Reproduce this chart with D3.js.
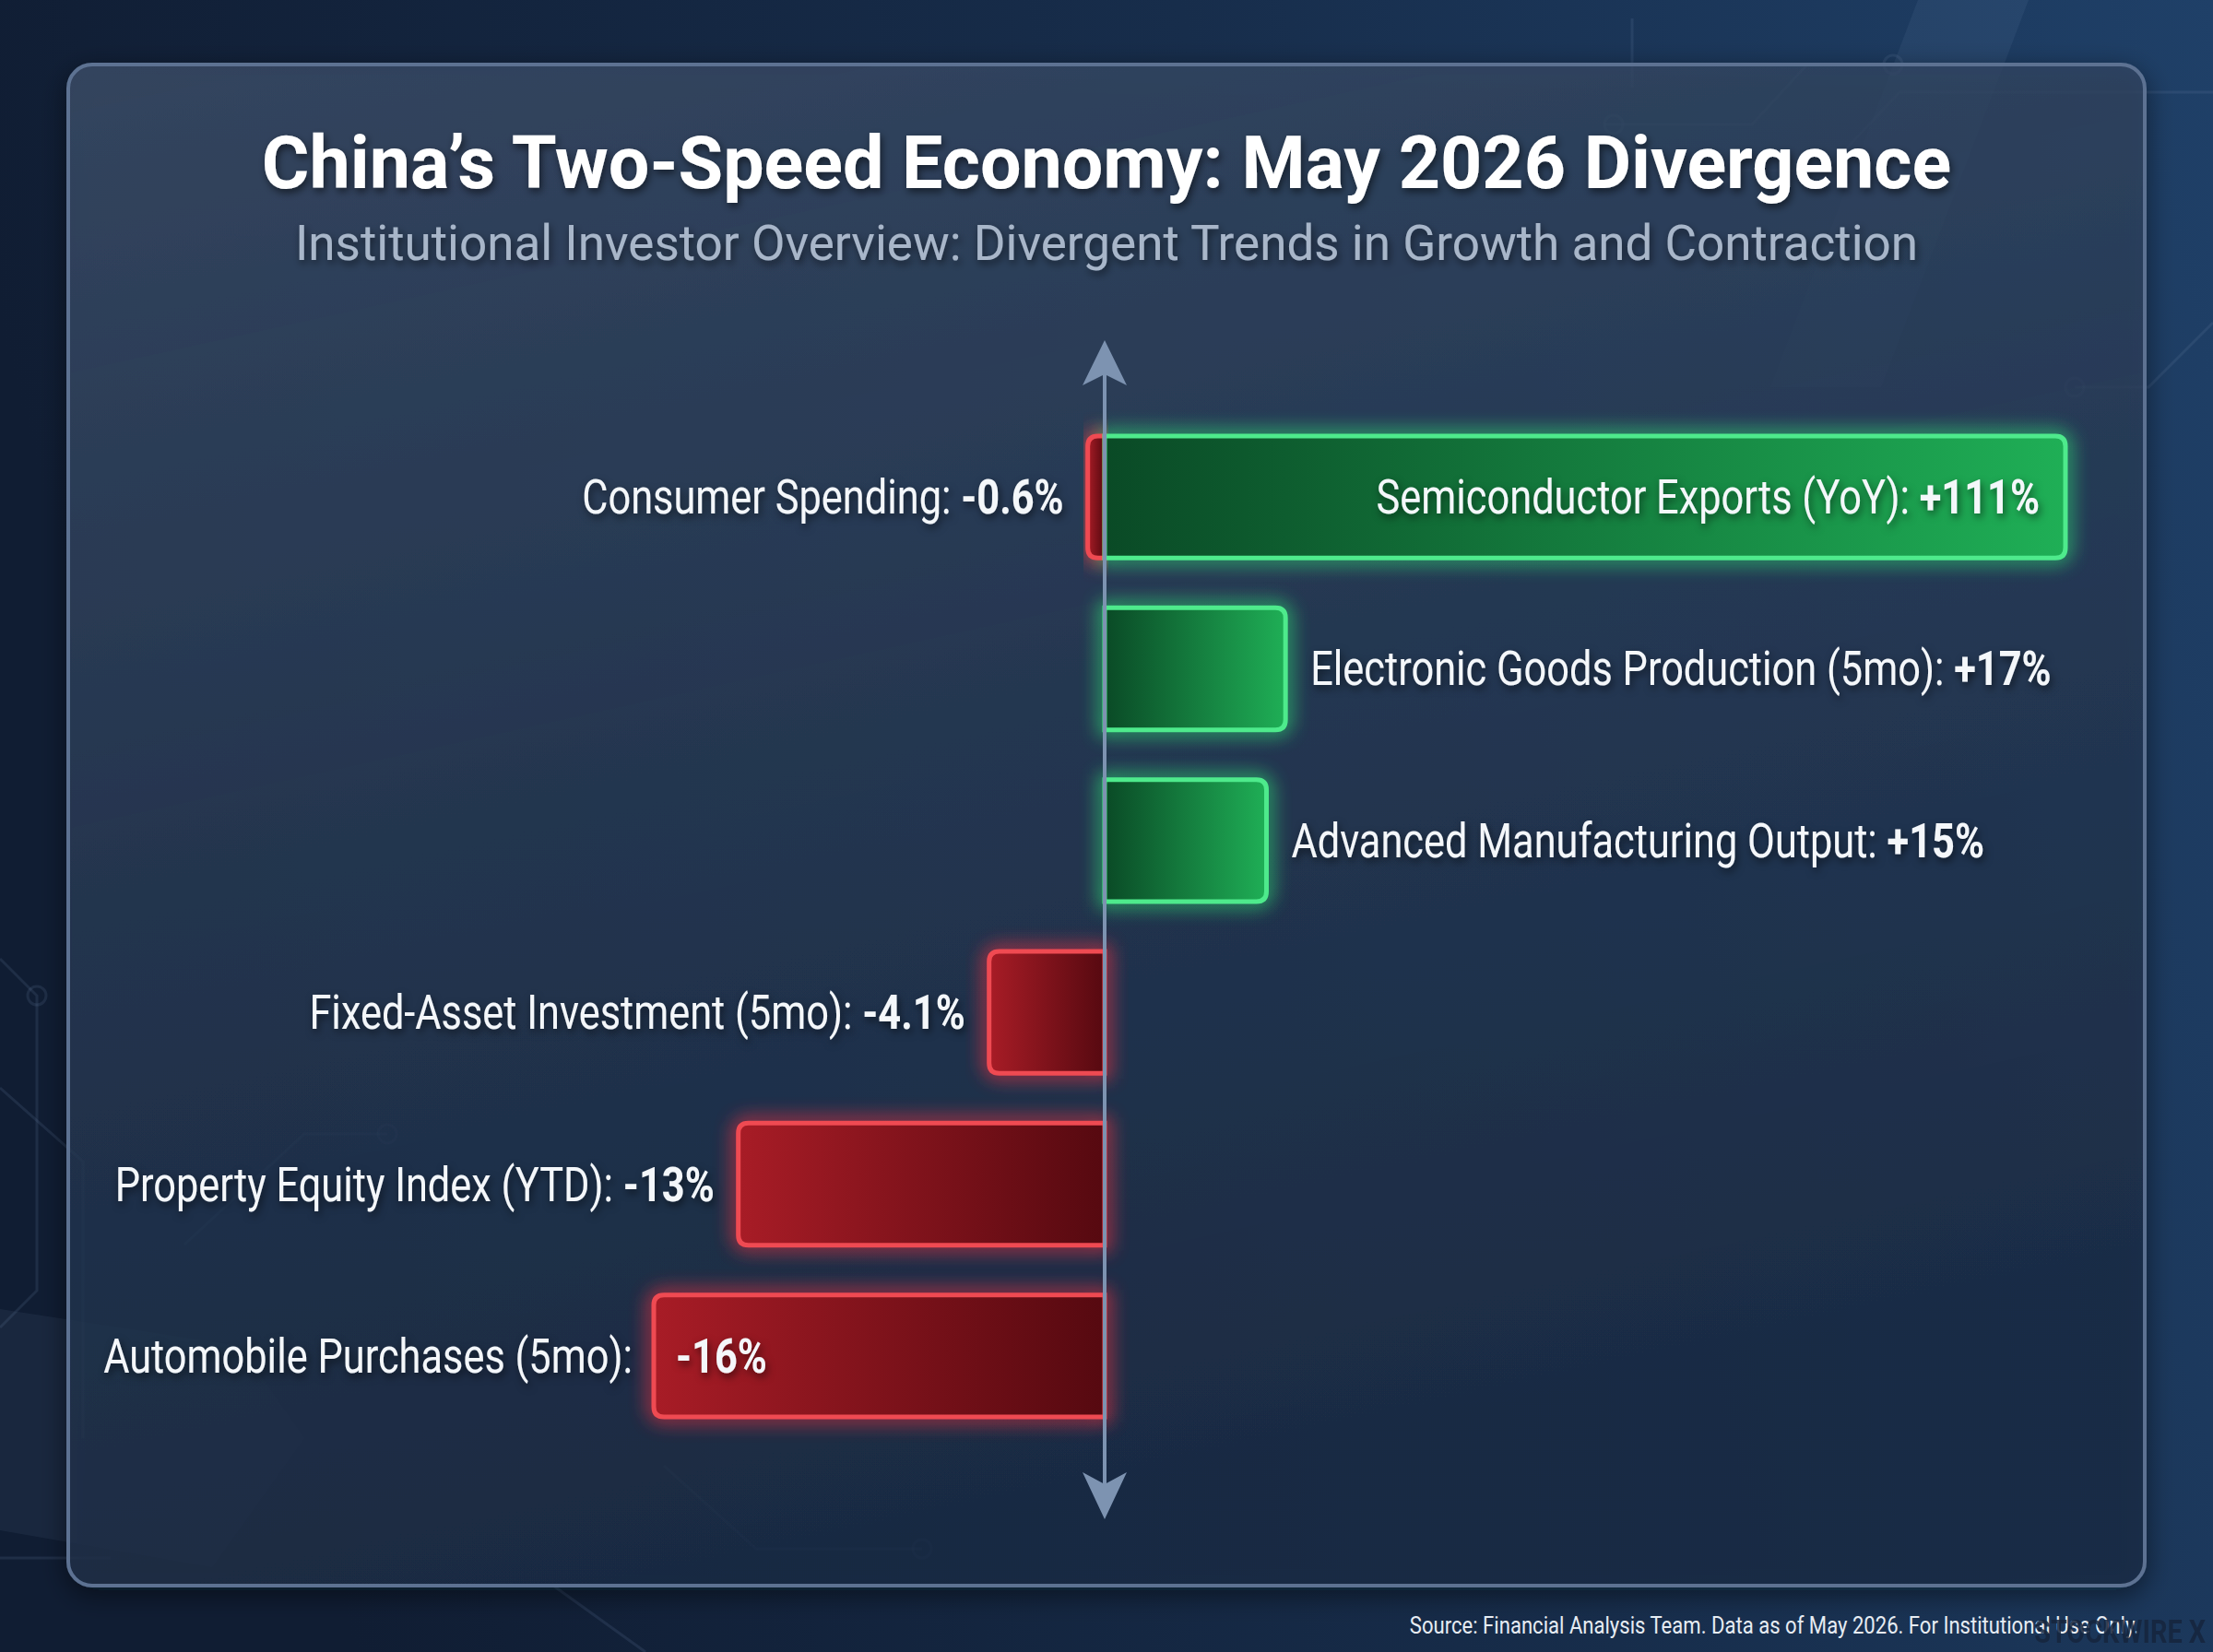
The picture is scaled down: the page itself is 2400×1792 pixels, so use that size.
<!DOCTYPE html>
<html>
<head>
<meta charset="utf-8">
<script src="https://cdn.jsdelivr.net/npm/d3@7"></script>
<style>
  html, body { margin: 0; padding: 0; background: #14243d; }
  svg { display: block; }
</style>
</head>
<body>
<div id="chart"></div>
<script>
// ---- data ----
var categories = [
    "Consumer Spending",
    "Semiconductor Exports (YoY)",
    "Electronic Goods Production (5mo)",
    "Advanced Manufacturing Output",
    "Fixed-Asset Investment (5mo)",
    "Property Equity Index (YTD)",
    "Automobile Purchases (5mo)"
];
var values = [-0.6, 111, 17, 15, -4.1, -13, -16];
var valueLabels = ["-0.6%", "+111%", "+17%", "+15%", "-4.1%", "-13%", "-16%"];
// row each category sits on (consumer spending shares the first row)
var rowIndex = [0, 0, 1, 2, 3, 4, 5];

var title = "China\u2019s Two-Speed Economy: May 2026 Divergence";
var subtitle = "Institutional Investor Overview: Divergent Trends in Growth and Contraction";
var source = "Source: Financial Analysis Team. Data as of May 2026. For Institutional Use Only.";

var W = 2400, H = 1792;
var axisX = 1198;
var FONT = "Roboto, 'Noto Sans', sans-serif";
var SQUEEZE = 0.85;

var svg = d3.select("#chart").append("svg").attr("width", W).attr("height", H);
var defs = svg.append("defs");

// background gradient
var bg = defs.append("linearGradient").attr("id", "bg").attr("x1", 0).attr("y1", 0.2).attr("x2", 1).attr("y2", 0);
bg.append("stop").attr("offset", 0).attr("stop-color", "#101d33");
bg.append("stop").attr("offset", 0.55).attr("stop-color", "#172d4b");
bg.append("stop").attr("offset", 1).attr("stop-color", "#1f4068");

var panelG = defs.append("linearGradient").attr("id", "panel").attr("x1", 0).attr("y1", 0).attr("x2", 0.3).attr("y2", 1);
panelG.append("stop").attr("offset", 0).attr("stop-color", "#3d4f6b").attr("stop-opacity", 0.75);
panelG.append("stop").attr("offset", 0.5).attr("stop-color", "#2b3e5a").attr("stop-opacity", 0.7);
panelG.append("stop").attr("offset", 1).attr("stop-color", "#1d2d47").attr("stop-opacity", 0.75);

var green = defs.append("linearGradient").attr("id", "gGreen").attr("x1", 0).attr("x2", 1);
green.append("stop").attr("offset", 0).attr("stop-color", "#0a4a26");
green.append("stop").attr("offset", 1).attr("stop-color", "#1faf56");
var red = defs.append("linearGradient").attr("id", "gRed").attr("x1", 0).attr("x2", 1);
red.append("stop").attr("offset", 0).attr("stop-color", "#a81c26");
red.append("stop").attr("offset", 1).attr("stop-color", "#560910");

var glow = defs.append("filter").attr("id", "glow").attr("x", "-20%").attr("y", "-40%").attr("width", "140%").attr("height", "180%");
glow.append("feGaussianBlur").attr("stdDeviation", 10);

var shadow = defs.append("filter").attr("id", "tshadow").attr("x", "-5%").attr("y", "-30%").attr("width", "110%").attr("height", "160%");
shadow.append("feDropShadow").attr("dx", 2).attr("dy", 4).attr("stdDeviation", 4)
    .attr("flood-color", "#000").attr("flood-opacity", 0.55);

var panelShadow = defs.append("filter").attr("id", "pshadow").attr("x", "-5%").attr("y", "-5%").attr("width", "110%").attr("height", "110%");
panelShadow.append("feDropShadow").attr("dx", 0).attr("dy", 8).attr("stdDeviation", 14)
    .attr("flood-color", "#050c18").attr("flood-opacity", 0.6);

svg.append("rect").attr("width", W).attr("height", H).attr("fill", "url(#bg)");

// faint circuit decoration
var deco = svg.append("g").attr("fill", "none").attr("stroke", "#6f88ad").attr("stroke-opacity", 0.16).attr("stroke-width", 3);
[
    "M1740,135 L1900,135 L1960,70 L2050,70",
    "M1770,95 L1770,20",
    "M1880,185 L1980,185 L2060,100 L2400,100",
    "M2250,420 L2330,420 L2400,350",
    "M0,1040 L40,1080 L40,1400 L0,1440",
    "M0,1180 L90,1260 L90,1560",
    "M200,1350 L330,1230 L420,1230",
    "M720,1590 L820,1680 L1000,1680",
    "M600,1720 L700,1792",
    "M0,1690 L120,1690"
].forEach(function (d) { deco.append("path").attr("d", d); });
deco.selectAll("circle.node")
    .data([[1750, 135], [2053, 70], [1880, 185], [40, 1080], [420, 1230], [1000, 1680], [2250, 420]])
    .enter().append("circle").attr("cx", function (d) { return d[0]; }).attr("cy", function (d) { return d[1]; }).attr("r", 10);
svg.append("path").attr("d", "M2080,0 L2200,0 L2040,420 L1920,420 Z").attr("fill", "#9fb7d6").attr("opacity", 0.08);
svg.append("path").attr("d", "M0,1420 L260,1460 L330,1560 L230,1700 L0,1660 Z").attr("fill", "#9fb7d6").attr("opacity", 0.07);

// panel
svg.append("rect").attr("x", 74).attr("y", 70).attr("width", 2252).attr("height", 1650).attr("rx", 26)
    .attr("fill", "url(#panel)").attr("stroke", "#5d7292").attr("stroke-width", 4).attr("filter", "url(#pshadow)");

// titles
svg.append("text").attr("x", W / 2).attr("y", 204).attr("text-anchor", "middle")
    .attr("font-family", FONT).attr("font-weight", 700).attr("font-size", 79).attr("fill", "#ffffff")
    .attr("filter", "url(#tshadow)").text(title);
svg.append("text").attr("x", W / 2).attr("y", 282).attr("text-anchor", "middle")
    .attr("font-family", FONT).attr("font-weight", 400).attr("font-size", 53).attr("fill", "#a8b6c9")
    .attr("filter", "url(#tshadow)").text(subtitle);

// ---- scales ----
// growth side and contraction side use their own scale, as the original does
var xPos = d3.scalePow().exponent(0.89)
    .domain([0, d3.max(values)])
    .range([axisX, 2240]);
var xNeg = d3.scaleLinear()
    .domain([d3.min(values), 0])
    .range([709, axisX]);
function xScale(v) { return v >= 0 ? xPos(v) : xNeg(v); }

var yScale = d3.scaleBand()
    .domain(d3.range(d3.max(rowIndex) + 1))
    .range([473, 1537])
    .paddingInner(0.29);

var data = categories.map(function (c, i) {
    return { name: c, value: values[i], label: valueLabels[i], row: rowIndex[i] };
});
var maxV = d3.max(values), minV = d3.min(values);

function barPath(d) {
    var x0 = xScale(0), x1 = xScale(d.value), y0 = yScale(d.row), h = yScale.bandwidth();
    var r = Math.min(11, Math.abs(x1 - x0));
    if (d.value >= 0) {
        return "M" + x0 + "," + y0 + " L" + (x1 - r) + "," + y0 + " Q" + x1 + "," + y0 + " " + x1 + "," + (y0 + r) +
            " L" + x1 + "," + (y0 + h - r) + " Q" + x1 + "," + (y0 + h) + " " + (x1 - r) + "," + (y0 + h) +
            " L" + x0 + "," + (y0 + h) + " Z";
    }
    return "M" + x0 + "," + y0 + " L" + (x1 + r) + "," + y0 + " Q" + x1 + "," + y0 + " " + x1 + "," + (y0 + r) +
        " L" + x1 + "," + (y0 + h - r) + " Q" + x1 + "," + (y0 + h) + " " + (x1 + r) + "," + (y0 + h) +
        " L" + x0 + "," + (y0 + h) + " Z";
}

// bars: glow underneath, then gradient body with bright edge
var bars = svg.append("g").attr("class", "bars");
bars.selectAll("path.glow").data(data).enter().append("path").attr("class", "glow")
    .attr("d", barPath).attr("fill", "none")
    .attr("stroke", function (d) { return d.value >= 0 ? "#2fe876" : "#ff3040"; })
    .attr("stroke-width", 12).attr("opacity", 0.75).attr("filter", "url(#glow)");
bars.selectAll("path.bar").data(data).enter().append("path").attr("class", "bar")
    .attr("d", barPath)
    .attr("fill", function (d) { return d.value >= 0 ? "url(#gGreen)" : "url(#gRed)"; })
    .attr("stroke", function (d) { return d.value >= 0 ? "#4eea8c" : "#ef4a52"; })
    .attr("stroke-width", 5);

// axis with arrowheads
var axis = svg.append("g").attr("fill", "#7d93b1").attr("stroke", "#7d93b1");
axis.append("line").attr("x1", axisX).attr("x2", axisX).attr("y1", 405).attr("y2", 1610).attr("stroke-width", 4);
axis.append("path").attr("stroke", "none")
    .attr("d", "M" + axisX + ",369 L" + (axisX + 24) + ",418 L" + axisX + ",406 L" + (axisX - 24) + ",418 Z");
axis.append("path").attr("stroke", "none")
    .attr("d", "M" + axisX + ",1648 L" + (axisX + 24) + ",1597 L" + axisX + ",1610 L" + (axisX - 24) + ",1597 Z");

// labels
var labels = svg.append("g").attr("font-family", FONT).attr("font-size", 51).attr("fill", "#f4f7fa")
    .attr("filter", "url(#tshadow)");

function addText(x, y, anchor, parts) {
    var t = labels.append("text")
        .attr("transform", "translate(" + x + "," + y + ") scale(" + SQUEEZE + ",1)")
        .attr("text-anchor", anchor);
    parts.forEach(function (p) {
        t.append("tspan").attr("font-weight", p[1] ? 700 : 400).text(p[0]);
    });
}

data.forEach(function (d) {
    var yc = yScale(d.row) + yScale.bandwidth() / 2 + 18;
    var xe = xScale(d.value);
    if (d.value >= 0) {
        if (d.value === maxV) addText(xe - 28, yc, "end", [[d.name + ": ", false], [d.label, true]]);
        else addText(xe + 27, yc, "start", [[d.name + ": ", false], [d.label, true]]);
    } else {
        if (d.value === minV) {
            addText(xe - 23, yc, "end", [[d.name + ":", false]]);
            addText(xe + 24, yc, "start", [[d.label, true]]);
        } else {
            addText(xe - 26, yc, "end", [[d.name + ": ", false], [d.label, true]]);
        }
    }
});

// footer
svg.append("text").attr("transform", "translate(2320,1772) scale(0.85,1)").attr("text-anchor", "end")
    .attr("font-family", FONT).attr("font-size", 26).attr("fill", "#e6ecf3").text(source);
svg.append("text").attr("transform", "translate(2392,1782) scale(0.8,1)").attr("text-anchor", "end")
    .attr("font-family", FONT).attr("font-weight", 700).attr("font-size", 36).attr("fill", "#16253d")
    .attr("opacity", 0.85).text("STOCKWIRE X");
</script>
</body>
</html>
